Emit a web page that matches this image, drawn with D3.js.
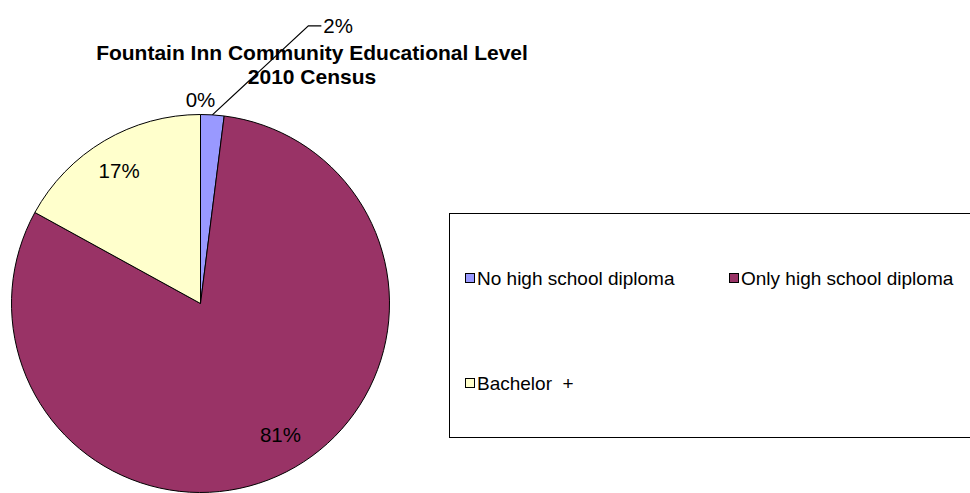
<!DOCTYPE html>
<html>
<head>
<meta charset="utf-8">
<script src="https://cdn.jsdelivr.net/npm/d3@7"></script>
<style>
  html, body { margin: 0; padding: 0; background: #fff; }
  svg { display: block; font-family: "Liberation Sans", Arial, sans-serif; }
  .legend-label { white-space: pre; }
</style>
</head>
<body>
<svg id="chart" width="970" height="493"></svg>
<script>
// Educational attainment shares (percent) for the Fountain Inn community, 2010 Census
const categories = ["No high school diploma", "Only high school diploma", "Bachelor  +", ""];
const shares = [2, 81, 17, 0];
const colors = ["#9999FF", "#993366", "#FFFFCC", "#CCFFFF"];
const titleLines = ["Fountain Inn Community Educational Level", "2010 Census"];

const svg = d3.select("#chart");

// Title
const title = svg.append("g").attr("font-weight", "bold").attr("font-size", 21)
  .attr("text-anchor", "middle").attr("fill", "#000");
titleLines.forEach((t, i) => {
  title.append("text").attr("x", 312).attr("y", 60 + i * 24).text(t);
});

// Pie
const cx = 200.5, cy = 303.5, R = 189;
const data = categories.map((c, i) => ({ name: c, value: shares[i], color: colors[i] }));
const pie = d3.pie().value(d => d.value).sort(null).startAngle(0).endAngle(2 * Math.PI);
const arcs = pie(data);
const arc = d3.arc().innerRadius(0).outerRadius(R);

const g = svg.append("g").attr("transform", `translate(${cx},${cy})`);
g.selectAll("path.slice")
  .data(arcs.filter(a => a.data.value > 0))
  .join("path")
  .attr("class", "slice")
  .attr("d", arc)
  .attr("fill", a => a.data.color)
  .attr("stroke", "#000")
  .attr("stroke-width", 1)
  .attr("stroke-linejoin", "round");

// Data labels: large slices inside, small slices pulled outside
const pct = d3.format(".0%");
const labelArc = d3.arc().innerRadius(154).outerRadius(154);
const nudges = [null, [10, -6], [-3, 0], null];
const labels = g.append("g").attr("font-size", 20.5).attr("fill", "#000").attr("text-anchor", "middle");

arcs.forEach((a, i) => {
  if (nudges[i]) {
    const [px, py] = labelArc.centroid(a);
    labels.append("text")
      .attr("x", px + nudges[i][0]).attr("y", py + nudges[i][1] + 7)
      .text(pct(a.data.value / 100));
  }
});

// Zero share: label sits just above the top edge
const zero = arcs[3];
const zTop = d3.arc().innerRadius(R).outerRadius(R).centroid(zero);
labels.append("text").attr("x", zTop[0]).attr("y", zTop[1] - 8).text(pct(zero.data.value / 100));

// 2% slice: label with a leader line
const small = arcs[0];
const edge = d3.arc().innerRadius(R).outerRadius(R).centroid(small);
const elbow = [edge[0] + 96, edge[1] - 89];
const lineEnd = [elbow[0] + 13, elbow[1]];
g.append("path")
  .attr("d", d3.line()([edge, elbow, lineEnd]))
  .attr("fill", "none").attr("stroke", "#000").attr("stroke-width", 1.2);
labels.append("text").attr("text-anchor", "start")
  .attr("x", lineEnd[0] + 2).attr("y", lineEnd[1] + 7)
  .text(pct(small.data.value / 100));

// Legend box
const legend = svg.append("g");
legend.append("rect")
  .attr("x", 449.5).attr("y", 213.5).attr("width", 540).attr("height", 224)
  .attr("fill", "#fff").attr("stroke", "#000").attr("stroke-width", 1);

const legendCols = d3.scaleOrdinal().domain([0, 1]).range([465, 729]);
const legendRows = d3.scaleOrdinal().domain([0, 1]).range([278, 383]);
const items = data.filter(d => d.name !== "");
const entry = legend.selectAll("g.entry").data(items).join("g")
  .attr("class", "entry")
  .attr("transform", (d, i) => `translate(${legendCols(i % 2)},${legendRows(Math.floor(i / 2))})`);
entry.append("rect")
  .attr("x", 0.5).attr("y", -4.5).attr("width", 9).attr("height", 9)
  .attr("fill", d => d.color).attr("stroke", "#000").attr("stroke-width", 1);
entry.append("text")
  .attr("class", "legend-label")
  .attr("x", 12).attr("y", 7)
  .attr("font-size", 19).attr("fill", "#000")
  .text(d => d.name);
</script>
</body>
</html>
